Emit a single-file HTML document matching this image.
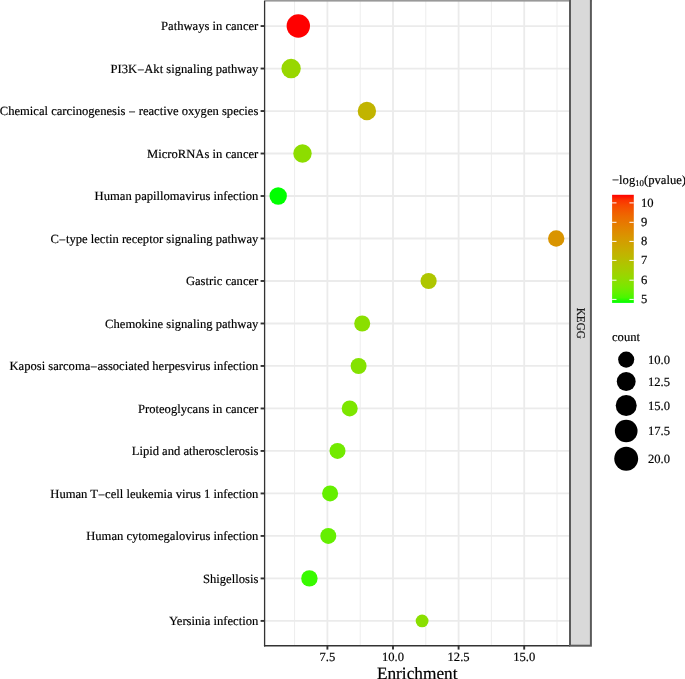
<!DOCTYPE html><html><head><meta charset="utf-8"><style>html,body{margin:0;padding:0;background:#fff;}svg{display:block;will-change:transform;}text{font-family:"Liberation Serif",serif;stroke:currentColor;stroke-width:0.18px;text-rendering:geometricPrecision;}</style></head><body>
<svg width="685" height="679" viewBox="0 0 685 679">
<rect x="0" y="0" width="685" height="679" fill="#fff"/>
<line x1="294.6" y1="0.5" x2="294.6" y2="645.7" stroke="#EDEDED" stroke-width="1"/>
<line x1="360.2" y1="0.5" x2="360.2" y2="645.7" stroke="#EDEDED" stroke-width="1"/>
<line x1="425.8" y1="0.5" x2="425.8" y2="645.7" stroke="#EDEDED" stroke-width="1"/>
<line x1="491.4" y1="0.5" x2="491.4" y2="645.7" stroke="#EDEDED" stroke-width="1"/>
<line x1="557.0" y1="0.5" x2="557.0" y2="645.7" stroke="#EDEDED" stroke-width="1"/>
<line x1="327.4" y1="0.5" x2="327.4" y2="645.7" stroke="#EBEBEB" stroke-width="1.8"/>
<line x1="393.0" y1="0.5" x2="393.0" y2="645.7" stroke="#EBEBEB" stroke-width="1.8"/>
<line x1="458.6" y1="0.5" x2="458.6" y2="645.7" stroke="#EBEBEB" stroke-width="1.8"/>
<line x1="524.2" y1="0.5" x2="524.2" y2="645.7" stroke="#EBEBEB" stroke-width="1.8"/>
<line x1="264.6" y1="26.05" x2="569.8" y2="26.05" stroke="#EBEBEB" stroke-width="1.8"/>
<line x1="264.6" y1="68.54" x2="569.8" y2="68.54" stroke="#EBEBEB" stroke-width="1.8"/>
<line x1="264.6" y1="111.03" x2="569.8" y2="111.03" stroke="#EBEBEB" stroke-width="1.8"/>
<line x1="264.6" y1="153.52" x2="569.8" y2="153.52" stroke="#EBEBEB" stroke-width="1.8"/>
<line x1="264.6" y1="196.01" x2="569.8" y2="196.01" stroke="#EBEBEB" stroke-width="1.8"/>
<line x1="264.6" y1="238.50" x2="569.8" y2="238.50" stroke="#EBEBEB" stroke-width="1.8"/>
<line x1="264.6" y1="280.99" x2="569.8" y2="280.99" stroke="#EBEBEB" stroke-width="1.8"/>
<line x1="264.6" y1="323.48" x2="569.8" y2="323.48" stroke="#EBEBEB" stroke-width="1.8"/>
<line x1="264.6" y1="365.97" x2="569.8" y2="365.97" stroke="#EBEBEB" stroke-width="1.8"/>
<line x1="264.6" y1="408.46" x2="569.8" y2="408.46" stroke="#EBEBEB" stroke-width="1.8"/>
<line x1="264.6" y1="450.95" x2="569.8" y2="450.95" stroke="#EBEBEB" stroke-width="1.8"/>
<line x1="264.6" y1="493.44" x2="569.8" y2="493.44" stroke="#EBEBEB" stroke-width="1.8"/>
<line x1="264.6" y1="535.93" x2="569.8" y2="535.93" stroke="#EBEBEB" stroke-width="1.8"/>
<line x1="264.6" y1="578.42" x2="569.8" y2="578.42" stroke="#EBEBEB" stroke-width="1.8"/>
<line x1="264.6" y1="620.91" x2="569.8" y2="620.91" stroke="#EBEBEB" stroke-width="1.8"/>
<circle cx="298.3" cy="26.05" r="11.7" fill="#FF0000"/>
<circle cx="291.1" cy="68.54" r="9.7" fill="#98D700"/>
<circle cx="366.9" cy="111.03" r="9.2" fill="#C1B400"/>
<circle cx="302.5" cy="153.52" r="9.2" fill="#8DDD00"/>
<circle cx="278.2" cy="196.01" r="8.7" fill="#00FF00"/>
<circle cx="556.2" cy="238.50" r="8.2" fill="#D99400"/>
<circle cx="428.6" cy="280.99" r="8.1" fill="#AEC600"/>
<circle cx="362.2" cy="323.48" r="8.0" fill="#8ADF00"/>
<circle cx="358.6" cy="365.97" r="8.0" fill="#84E200"/>
<circle cx="349.7" cy="408.46" r="8.0" fill="#7DE600"/>
<circle cx="337.5" cy="450.95" r="8.0" fill="#72EA00"/>
<circle cx="330.1" cy="493.44" r="8.0" fill="#65EF00"/>
<circle cx="328.3" cy="535.93" r="8.0" fill="#65EF00"/>
<circle cx="309.4" cy="578.42" r="8.2" fill="#38FA00"/>
<circle cx="422.1" cy="620.91" r="6.4" fill="#8ADF00"/>
<rect x="264" y="0" width="327.8" height="1.6" fill="#999"/>
<line x1="264.6" y1="1" x2="264.6" y2="646.4000000000001" stroke="#333" stroke-width="1.3"/>
<line x1="263.95000000000005" y1="645.7" x2="569.8" y2="645.7" stroke="#333" stroke-width="1.4"/>
<rect x="570" y="-2" width="20.9" height="647.7" fill="#D9D9D9" stroke="#5A5A5A" stroke-width="2"/>
<text transform="translate(576.8,323.3) rotate(90)" text-anchor="middle" font-size="11.9" textLength="31" lengthAdjust="spacingAndGlyphs" fill="#1A1A1A">KEGG</text>
<line x1="260.6" y1="26.05" x2="264.6" y2="26.05" stroke="#333" stroke-width="1.9"/>
<text x="258.3" y="30.15" text-anchor="end" font-size="12.6" fill="#000">Pathways in cancer</text>
<line x1="260.6" y1="68.54" x2="264.6" y2="68.54" stroke="#333" stroke-width="1.9"/>
<text x="258.3" y="72.64" text-anchor="end" font-size="12.6" fill="#000">PI3K<tspan dy="1.3">−</tspan><tspan dy="-1.3">Akt signaling pathway</tspan></text>
<line x1="260.6" y1="111.03" x2="264.6" y2="111.03" stroke="#333" stroke-width="1.9"/>
<text x="258.3" y="115.13" text-anchor="end" font-size="12.6" fill="#000">Chemical carcinogenesis <tspan dy="1.3">−</tspan><tspan dy="-1.3"> reactive oxygen species</tspan></text>
<line x1="260.6" y1="153.52" x2="264.6" y2="153.52" stroke="#333" stroke-width="1.9"/>
<text x="258.3" y="157.62" text-anchor="end" font-size="12.6" fill="#000">MicroRNAs in cancer</text>
<line x1="260.6" y1="196.01" x2="264.6" y2="196.01" stroke="#333" stroke-width="1.9"/>
<text x="258.3" y="200.11" text-anchor="end" font-size="12.6" fill="#000">Human papillomavirus infection</text>
<line x1="260.6" y1="238.50" x2="264.6" y2="238.50" stroke="#333" stroke-width="1.9"/>
<text x="258.3" y="242.60" text-anchor="end" font-size="12.6" fill="#000">C<tspan dy="1.3">−</tspan><tspan dy="-1.3">type lectin receptor signaling pathway</tspan></text>
<line x1="260.6" y1="280.99" x2="264.6" y2="280.99" stroke="#333" stroke-width="1.9"/>
<text x="258.3" y="285.09" text-anchor="end" font-size="12.6" fill="#000">Gastric cancer</text>
<line x1="260.6" y1="323.48" x2="264.6" y2="323.48" stroke="#333" stroke-width="1.9"/>
<text x="258.3" y="327.58" text-anchor="end" font-size="12.6" fill="#000">Chemokine signaling pathway</text>
<line x1="260.6" y1="365.97" x2="264.6" y2="365.97" stroke="#333" stroke-width="1.9"/>
<text x="258.3" y="370.07" text-anchor="end" font-size="12.6" fill="#000">Kaposi sarcoma<tspan dy="1.3">−</tspan><tspan dy="-1.3">associated herpesvirus infection</tspan></text>
<line x1="260.6" y1="408.46" x2="264.6" y2="408.46" stroke="#333" stroke-width="1.9"/>
<text x="258.3" y="412.56" text-anchor="end" font-size="12.6" fill="#000">Proteoglycans in cancer</text>
<line x1="260.6" y1="450.95" x2="264.6" y2="450.95" stroke="#333" stroke-width="1.9"/>
<text x="258.3" y="455.05" text-anchor="end" font-size="12.6" fill="#000">Lipid and atherosclerosis</text>
<line x1="260.6" y1="493.44" x2="264.6" y2="493.44" stroke="#333" stroke-width="1.9"/>
<text x="258.3" y="497.54" text-anchor="end" font-size="12.6" fill="#000">Human T<tspan dy="1.3">−</tspan><tspan dy="-1.3">cell leukemia virus 1 infection</tspan></text>
<line x1="260.6" y1="535.93" x2="264.6" y2="535.93" stroke="#333" stroke-width="1.9"/>
<text x="258.3" y="540.03" text-anchor="end" font-size="12.6" fill="#000">Human cytomegalovirus infection</text>
<line x1="260.6" y1="578.42" x2="264.6" y2="578.42" stroke="#333" stroke-width="1.9"/>
<text x="258.3" y="582.52" text-anchor="end" font-size="12.6" fill="#000">Shigellosis</text>
<line x1="260.6" y1="620.91" x2="264.6" y2="620.91" stroke="#333" stroke-width="1.9"/>
<text x="258.3" y="625.01" text-anchor="end" font-size="12.6" fill="#000">Yersinia infection</text>
<line x1="327.4" y1="645.7" x2="327.4" y2="649.6" stroke="#333" stroke-width="1.9"/>
<text x="327.4" y="660.9" text-anchor="middle" font-size="12.6" fill="#000">7.5</text>
<line x1="393.0" y1="645.7" x2="393.0" y2="649.6" stroke="#333" stroke-width="1.9"/>
<text x="393.0" y="660.9" text-anchor="middle" font-size="12.6" fill="#000">10.0</text>
<line x1="458.6" y1="645.7" x2="458.6" y2="649.6" stroke="#333" stroke-width="1.9"/>
<text x="458.6" y="660.9" text-anchor="middle" font-size="12.6" fill="#000">12.5</text>
<line x1="524.2" y1="645.7" x2="524.2" y2="649.6" stroke="#333" stroke-width="1.9"/>
<text x="524.2" y="660.9" text-anchor="middle" font-size="12.6" fill="#000">15.0</text>
<text x="417.2" y="678.8" text-anchor="middle" font-size="17.3" fill="#000">Enrichment</text>
<text x="612" y="183.7" font-size="12.6" fill="#000">−log<tspan font-size="8.8" dy="2.4">10</tspan><tspan dy="-2.4">(pvalue)</tspan></text>
<defs><linearGradient id="cb" x1="0" y1="1" x2="0" y2="0">
<stop offset="0.0" stop-color="#00FF00"/>
<stop offset="0.05" stop-color="#49F700"/>
<stop offset="0.1" stop-color="#65EF00"/>
<stop offset="0.15" stop-color="#7AE700"/>
<stop offset="0.2" stop-color="#8ADF00"/>
<stop offset="0.25" stop-color="#98D700"/>
<stop offset="0.3" stop-color="#A4CE00"/>
<stop offset="0.35" stop-color="#AEC600"/>
<stop offset="0.4" stop-color="#B8BD00"/>
<stop offset="0.45" stop-color="#C1B400"/>
<stop offset="0.5" stop-color="#C9AB00"/>
<stop offset="0.55" stop-color="#D0A100"/>
<stop offset="0.6" stop-color="#D79800"/>
<stop offset="0.65" stop-color="#DD8D00"/>
<stop offset="0.7" stop-color="#E38200"/>
<stop offset="0.75" stop-color="#E87600"/>
<stop offset="0.8" stop-color="#ED6A00"/>
<stop offset="0.85" stop-color="#F25B00"/>
<stop offset="0.9" stop-color="#F74A00"/>
<stop offset="0.95" stop-color="#FB3300"/>
<stop offset="1.0" stop-color="#FF0000"/>
</linearGradient></defs>
<rect x="612.1" y="194.8" width="21.7" height="108.1" fill="url(#cb)"/>
<line x1="612.1" y1="202.9" x2="616.5" y2="202.9" stroke="#fff" stroke-width="1"/>
<line x1="629.4" y1="202.9" x2="633.8" y2="202.9" stroke="#fff" stroke-width="1"/>
<text x="641.0" y="206.5" font-size="12.6" fill="#000">10</text>
<line x1="612.1" y1="222.3" x2="616.5" y2="222.3" stroke="#fff" stroke-width="1"/>
<line x1="629.4" y1="222.3" x2="633.8" y2="222.3" stroke="#fff" stroke-width="1"/>
<text x="641.0" y="225.9" font-size="12.6" fill="#000">9</text>
<line x1="612.1" y1="241.4" x2="616.5" y2="241.4" stroke="#fff" stroke-width="1"/>
<line x1="629.4" y1="241.4" x2="633.8" y2="241.4" stroke="#fff" stroke-width="1"/>
<text x="641.0" y="245.0" font-size="12.6" fill="#000">8</text>
<line x1="612.1" y1="260.4" x2="616.5" y2="260.4" stroke="#fff" stroke-width="1"/>
<line x1="629.4" y1="260.4" x2="633.8" y2="260.4" stroke="#fff" stroke-width="1"/>
<text x="641.0" y="264.0" font-size="12.6" fill="#000">7</text>
<line x1="612.1" y1="280.2" x2="616.5" y2="280.2" stroke="#fff" stroke-width="1"/>
<line x1="629.4" y1="280.2" x2="633.8" y2="280.2" stroke="#fff" stroke-width="1"/>
<text x="641.0" y="283.8" font-size="12.6" fill="#000">6</text>
<line x1="612.1" y1="299.4" x2="616.5" y2="299.4" stroke="#fff" stroke-width="1"/>
<line x1="629.4" y1="299.4" x2="633.8" y2="299.4" stroke="#fff" stroke-width="1"/>
<text x="641.0" y="303.0" font-size="12.6" fill="#000">5</text>
<text x="612" y="340.6" font-size="12.6" fill="#000">count</text>
<circle cx="626.2" cy="359.6" r="8.05" fill="#000"/>
<text x="648.0" y="363.90000000000003" font-size="12.6" fill="#000">10.0</text>
<circle cx="626.2" cy="381.5" r="9.45" fill="#000"/>
<text x="648.0" y="385.8" font-size="12.6" fill="#000">12.5</text>
<circle cx="626.2" cy="405.5" r="10.5" fill="#000"/>
<text x="648.0" y="409.8" font-size="12.6" fill="#000">15.0</text>
<circle cx="626.2" cy="431.0" r="11.35" fill="#000"/>
<text x="648.0" y="435.3" font-size="12.6" fill="#000">17.5</text>
<circle cx="626.2" cy="458.8" r="11.95" fill="#000"/>
<text x="648.0" y="463.1" font-size="12.6" fill="#000">20.0</text>
</svg></body></html>
